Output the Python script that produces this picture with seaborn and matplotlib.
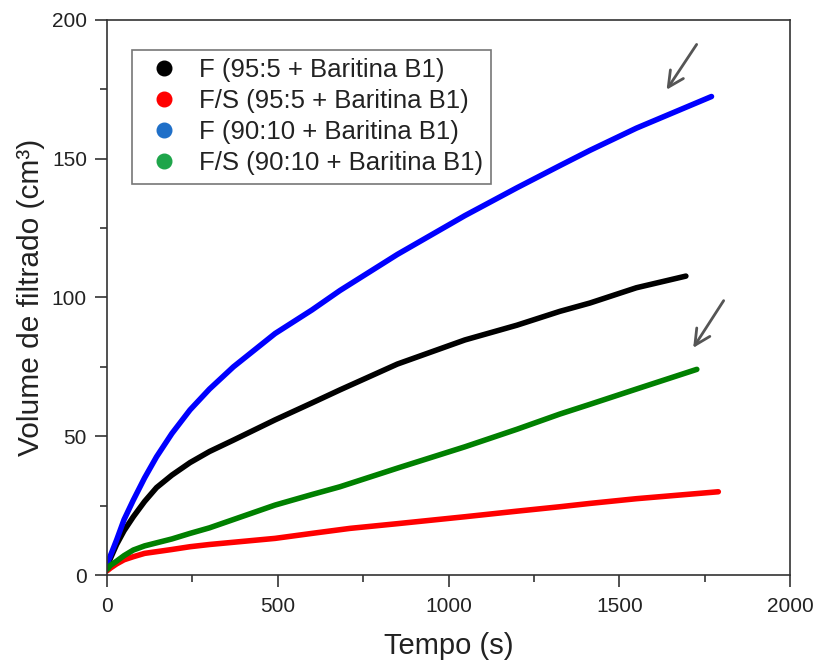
import pandas as pd
import numpy as np
import matplotlib
matplotlib.use("Agg")
import matplotlib.pyplot as plt
import seaborn as sns
from matplotlib.lines import Line2D
from matplotlib.ticker import MultipleLocator

# -----------------------------
# Data
# -----------------------------
t_f_95 = [0, 10, 28, 50, 77, 110, 145, 190, 243, 300, 370, 492, 600, 682, 850, 1048, 1200, 1326, 1414, 1550, 1695]
v_f_95 = [3, 6, 11, 16, 21, 26.5, 31.5, 36, 40.5, 44.5, 48.6, 55.9, 62, 66.7, 76, 84.7, 90, 95, 98, 103.5, 107.7]

t_fs_95 = [0, 10, 28, 50, 77, 110, 190, 243, 300, 492, 600, 711, 850, 1048, 1200, 1326, 1414, 1550, 1790]
v_fs_95 = [1.5, 2.5, 4, 5.5, 6.6, 7.8, 9.2, 10.2, 11, 13.2, 15, 16.8, 18.5, 21, 23, 24.6, 25.8, 27.5, 30]

t_f_90 = [0, 10, 28, 50, 77, 110, 145, 190, 243, 300, 370, 492, 600, 682, 850, 1048, 1200, 1326, 1414, 1550, 1770]
v_f_90 = [4, 7, 12.6, 20, 27, 35, 42.6, 51, 59.5, 67, 75, 87, 95.5, 102.5, 115.5, 129.5, 139.5, 147.5, 153, 161, 172.4]

t_fs_90 = [0, 10, 28, 50, 77, 110, 190, 243, 300, 492, 600, 682, 850, 1048, 1200, 1326, 1414, 1550, 1727]
v_fs_90 = [2, 3.5, 5, 7, 9, 10.5, 13, 15, 17, 25.2, 29, 31.8, 38.5, 46.2, 52.5, 58, 61.5, 67, 74.1]

labels = ["F (95:5 + Baritina B1)", "F/S (95:5 + Baritina B1)",
          "F (90:10 + Baritina B1)", "F/S (90:10 + Baritina B1)"]
line_colors = ["#000000", "#ff0000", "#0000ff", "#008000"]
legend_colors = ["#000000", "#ff0000", "#1f6fc8", "#1ea54a"]

# arrows pointing at the 90:10 curves (tail, head)
arrow_tails = [(1731, 192), (1810, 99.7)]
arrow_heads = [(1634, 174), (1712, 81)]

frames = []
for lab, t, v in zip(labels, [t_f_95, t_fs_95, t_f_90, t_fs_90], [v_f_95, v_fs_95, v_f_90, v_fs_90]):
    frames.append(pd.DataFrame({"Tempo": t, "Volume": v, "Amostra": lab}))
df = pd.concat(frames, ignore_index=True)

# -----------------------------
# Plot
# -----------------------------
sns.set_style("ticks")
plt.rcParams['font.family'] = ['Liberation Sans', 'DejaVu Sans']

fig = plt.figure(figsize=(8.17, 6.64), dpi=100)
ax = fig.add_axes([0.131, 0.134, 0.836, 0.836])

sns.lineplot(data=df, x="Tempo", y="Volume", hue="Amostra", hue_order=labels,
             palette=dict(zip(labels, line_colors)), sort=False, estimator=None,
             linewidth=4, legend=False, ax=ax)

ax.set_xlim(0, 2000)
ax.set_ylim(0, 200)
ax.xaxis.set_major_locator(MultipleLocator(500))
ax.xaxis.set_minor_locator(MultipleLocator(250))
ax.yaxis.set_major_locator(MultipleLocator(50))
ax.yaxis.set_minor_locator(MultipleLocator(25))
ax.tick_params(which='major', direction='out', length=8.5, width=1.2, labelsize=15,
               colors='#333333', labelcolor='#222222')
ax.tick_params(axis='y', which='major', pad=6)
ax.tick_params(axis='x', which='major', pad=7)
ax.tick_params(which='minor', direction='out', length=5, width=1.2, colors='#333333')
for s in ax.spines.values():
    s.set_linewidth(1.2)
    s.set_color('#333333')

ax.set_xlabel("Tempo (s)", fontsize=21, labelpad=12, color='#222222')
ax.set_ylabel("Volume de filtrado (cm³)", fontsize=21.5, labelpad=5, color='#222222')

for tail, head in zip(arrow_tails, arrow_heads):
    ax.annotate("", xy=head, xytext=tail,
                arrowprops=dict(arrowstyle='->', color='#555555', lw=2, mutation_scale=28))

handles = [Line2D([0], [0], marker='o', linestyle='none', markersize=10.5,
                  markerfacecolor=c, markeredgecolor=c) for c in legend_colors]
leg = ax.legend(handles, labels, loc='upper left', bbox_to_anchor=(0.0366, 0.946),
                borderaxespad=0, fontsize=18.5, frameon=True, fancybox=False,
                edgecolor='#555555', handlelength=1.8, handletextpad=0.47,
                labelspacing=0.27, borderpad=0.33)
leg.get_frame().set_linewidth(1.2)
for txt in leg.get_texts():
    txt.set_color('#222222')

fig.savefig("out.png", dpi=100)
